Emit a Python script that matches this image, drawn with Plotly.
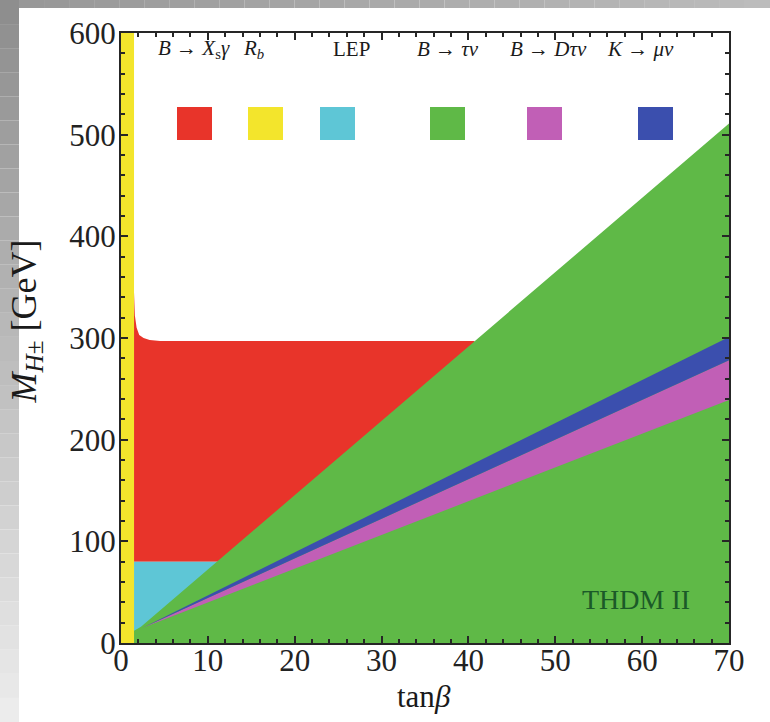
import plotly.graph_objects as go

# ---------------- data ----------------
x_ticks = [0, 10, 20, 30, 40, 50, 60, 70]
y_ticks = [0, 100, 200, 300, 400, 500, 600]

# R_b excluded region (yellow)
rb_tanb = [0.0, 1.5, 1.5, 0.0]
rb_mh = [0, 0, 600, 600]

# B -> X_s gamma excluded region (red)
bsg_tanb = [1.5, 1.5, 1.6, 1.8, 2.1, 2.6, 3.3, 4.5, 40.7, 40.7]
bsg_mh = [80, 345, 322, 310, 303, 300, 298, 297, 297, 80]

# LEP excluded region (cyan)
lep_tanb = [1.5, 1.5, 12.0, 12.0]
lep_mh = [0, 80, 80, 0]

# B -> tau nu excluded region (green)
btn_tanb = [1.5, 70, 70, 2.3, 1.5]
btn_mh = [0, 0, 511, 16, 12]

# B -> D tau nu excluded band (magenta)
bdtn_tanb = [2.5, 70, 70]
bdtn_mh = [15, 239, 278]

# K -> mu nu excluded band (blue)
kmn_tanb = [2.5, 70, 70]
kmn_mh = [15, 278, 301]

legend_labels = ["<i>B</i> → <i>X</i><sub>s</sub><i>γ</i>", "<i>R</i><sub><i>b</i></sub>", "LEP",
                 "<i>B</i> → <i>τν</i>", "<i>B</i> → <i>Dτν</i>", "<i>K</i> → <i>μν</i>"]

# ---------------- style ----------------
SERIF = "Liberation Serif, Times New Roman, serif"
RED = "#e8342a"
YEL = "#f3e52c"
CYA = "#5ec6d6"
GRN = "#5fb947"
MAG = "#c15fb6"
BLU = "#3b4fae"
legend_colors = [RED, YEL, CYA, GRN, MAG, BLU]

W, H = 770, 722
L, R, T, B = 121, 41, 33, 79
pw, ph = W - L - R, H - T - B


def px2paper_x(px):
    return (px - L) / pw


def px2paper_y(py):
    return (H - B - py) / ph


def px2data_x(px):
    return (px - L) / pw * 70


def px2data_y(py):
    return (H - B - py) / ph * 600


fig = go.Figure()


def region(xs, ys, color):
    fig.add_trace(go.Scatter(x=xs, y=ys, fill="toself", fillcolor=color, mode="lines",
                             line=dict(width=0, color=color), hoverinfo="skip", showlegend=False))


region(bsg_tanb, bsg_mh, RED)
region(lep_tanb, lep_mh, CYA)
region(btn_tanb, btn_mh, GRN)
region(bdtn_tanb, bdtn_mh, MAG)
region(kmn_tanb, kmn_mh, BLU)
region(rb_tanb, rb_mh, YEL)

shapes = []
# slide-like gray frame (gradient)
n = 30
for i in range(n):
    y0 = i * H / n
    y1 = (i + 1) * H / n
    t = i / (n - 1)
    g = int(0x8e + (0xec - 0x8e) * t)
    shapes.append(dict(type="rect", xref="paper", yref="paper", layer="below",
                       x0=px2paper_x(0), x1=px2paper_x(19), y0=px2paper_y(y1), y1=px2paper_y(y0),
                       fillcolor=f"rgb({g},{g},{g})", line=dict(width=0)))
for i in range(n):
    x0 = 19 + i * (W - 19) / n
    x1 = 19 + (i + 1) * (W - 19) / n
    t = i / (n - 1)
    g = int(0x98 + (0xbc - 0x98) * t)
    shapes.append(dict(type="rect", xref="paper", yref="paper", layer="below",
                       x0=px2paper_x(x0), x1=px2paper_x(x1), y0=px2paper_y(8), y1=px2paper_y(0),
                       fillcolor=f"rgb({g},{g},{g})", line=dict(width=0)))

# legend squares
sq_px = [(177, 212), (248, 283), (320, 355), (430, 465), (527, 562), (638, 673)]
lab_px = [194, 253, 351, 448, 548, 640]
annotations = []
for (a, b), c, lab, lx in zip(sq_px, legend_colors, legend_labels, lab_px):
    shapes.append(dict(type="rect", xref="x", yref="y", layer="above",
                       x0=px2data_x(a), x1=px2data_x(b), y0=px2data_y(140), y1=px2data_y(107),
                       fillcolor=c, line=dict(width=0)))
    annotations.append(dict(x=px2data_x(lx), y=px2data_y(49), xref="x", yref="y", text=lab,
                            showarrow=False, font=dict(family=SERIF, size=21, color="#1a1a1a")))

annotations.append(dict(x=59.3, y=43, xref="x", yref="y", text="THDM II", showarrow=False,
                        font=dict(family=SERIF, size=28, color="#1b5a28")))
annotations.append(dict(x=px2paper_x(424), y=px2paper_y(677), xref="paper", yref="paper",
                        yanchor="top", text="tan<i>β</i>", showarrow=False,
                        font=dict(family=SERIF, size=31, color="#1a1a1a")))
annotations.append(dict(x=px2paper_x(50), y=px2paper_y(322), xref="paper", yref="paper",
                        xanchor="right", yanchor="middle",
                        text="<i>M</i><sub><i>H</i>±</sub> [GeV]", textangle=-90,
                        showarrow=False, font=dict(family=SERIF, size=36, color="#1a1a1a")))

axis_common = dict(showline=True, linecolor="#262626", linewidth=2, mirror="allticks",
                   ticks="inside", ticklen=7, tickwidth=1.5, tickcolor="#262626",
                   showgrid=False, zeroline=False)

fig.update_layout(
    width=W, height=H,
    margin=dict(l=L, r=R, t=T, b=B),
    font=dict(family=SERIF, size=30, color="#222222"),
    paper_bgcolor="white", plot_bgcolor="white",
    xaxis=dict(range=[0, 70], tickvals=x_ticks, ticktext=[str(v) for v in x_ticks],
               tickfont=dict(family=SERIF, size=31, color="#222222"), ticklabelstandoff=-11,
               minor=dict(ticks="inside", dtick=2, ticklen=4, tickcolor="#262626"), **axis_common),
    yaxis=dict(range=[0, 600], tickvals=y_ticks, ticktext=[str(v) for v in y_ticks],
               tickfont=dict(family=SERIF, size=31, color="#222222"), ticklabelstandoff=-3,
               minor=dict(ticks="inside", dtick=20, ticklen=4, tickcolor="#262626"), **axis_common),
    shapes=shapes, annotations=annotations, showlegend=False,
)

fig.write_html("out.html")
